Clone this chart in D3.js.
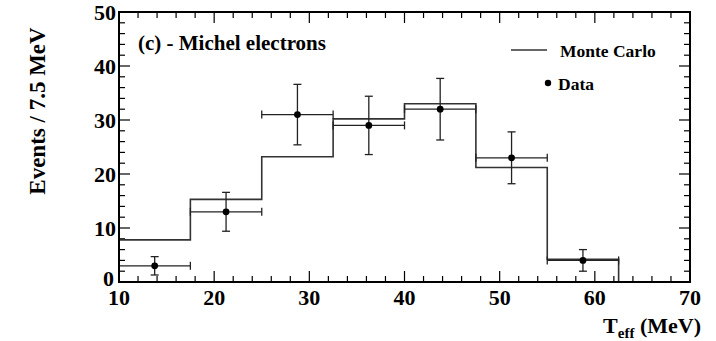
<!DOCTYPE html>
<html>
<head>
<meta charset="utf-8">
<script src="https://cdn.jsdelivr.net/npm/d3@7"></script>
<style>
  body { margin: 0; background: #fff; }
</style>
</head>
<body>
<svg id="chart"></svg>
<script>
// bin edges (MeV), Monte Carlo histogram, data points with errors
const binEdges = [10, 17.5, 25, 32.5, 40, 47.5, 55, 62.5];
const mcCounts = [7.8, 15.3, 23.2, 30.2, 33.0, 21.2, 4.2];
const dataCounts = [3, 13, 31, 29, 32, 23, 4];
const dataErrors = [1.7, 3.6, 5.6, 5.4, 5.7, 4.8, 2.0];
const xTicks = [10, 20, 30, 40, 50, 60, 70];
const yTicks = [0, 10, 20, 30, 40, 50];

const width = 716, height = 341;
const margin = { top: 12, right: 26, bottom: 59, left: 119 };
const fontStack = "'Liberation Serif', Tinos, 'DejaVu Serif', 'DejaVu Sans Condensed', sans-serif";

const svg = d3.select("#chart").attr("width", width).attr("height", height)
  .attr("font-family", fontStack);

const x = d3.scaleLinear().domain([10, 70]).range([margin.left, width - margin.right]);
const y = d3.scaleLinear().domain([0, 50]).range([height - margin.bottom, margin.top]);

const x0 = x.range()[0], x1 = x.range()[1];
const y0 = y.range()[0], y1 = y.range()[1];

// minor + major ticks, inward on all four sides
const g = svg.append("g").attr("stroke", "#000").attr("stroke-width", 1.2);
d3.range(10, 70.01, 2).forEach(v => {
  const len = v % 10 === 0 ? 11 : 6;
  g.append("line").attr("x1", x(v)).attr("x2", x(v)).attr("y1", y0).attr("y2", y0 - len);
  g.append("line").attr("x1", x(v)).attr("x2", x(v)).attr("y1", y1).attr("y2", y1 + len);
});
d3.range(0, 50.01, 2).forEach(v => {
  const len = v % 10 === 0 ? 11 : 6;
  g.append("line").attr("x1", x0).attr("x2", x0 + len).attr("y1", y(v)).attr("y2", y(v));
  g.append("line").attr("x1", x1).attr("x2", x1 - len).attr("y1", y(v)).attr("y2", y(v));
});

// Monte Carlo step histogram
const steps = [];
mcCounts.forEach((c, i) => {
  steps.push([binEdges[i], c]);
  steps.push([binEdges[i + 1], c]);
});
steps.unshift([binEdges[0], 0]);
steps.push([binEdges[binEdges.length - 1], 0]);
svg.append("path")
  .attr("d", d3.line().x(d => x(d[0])).y(d => y(d[1]))(steps))
  .attr("fill", "none").attr("stroke", "#333").attr("stroke-width", 1.6);

// data with error bars
const eb = svg.append("g").attr("stroke", "#222").attr("stroke-width", 1.3);
dataCounts.forEach((c, i) => {
  const lo = binEdges[i], hi = binEdges[i + 1], mid = (lo + hi) / 2;
  const e = dataErrors[i];
  eb.append("line").attr("x1", x(lo)).attr("x2", x(hi)).attr("y1", y(c)).attr("y2", y(c));
  eb.append("line").attr("x1", x(lo)).attr("x2", x(lo)).attr("y1", y(c) - 4).attr("y2", y(c) + 4);
  eb.append("line").attr("x1", x(hi)).attr("x2", x(hi)).attr("y1", y(c) - 4).attr("y2", y(c) + 4);
  eb.append("line").attr("x1", x(mid)).attr("x2", x(mid)).attr("y1", y(c + e)).attr("y2", y(c - e));
  eb.append("line").attr("x1", x(mid) - 4).attr("x2", x(mid) + 4).attr("y1", y(c + e)).attr("y2", y(c + e));
  eb.append("line").attr("x1", x(mid) - 4).attr("x2", x(mid) + 4).attr("y1", y(c - e)).attr("y2", y(c - e));
  svg.append("circle").attr("cx", x(mid)).attr("cy", y(c)).attr("r", 3.4).attr("fill", "#000");
});

// frame
svg.append("rect").attr("x", x0).attr("y", y1).attr("width", x1 - x0).attr("height", y0 - y1)
  .attr("fill", "none").attr("stroke", "#000").attr("stroke-width", 2);

// tick labels
svg.append("g").selectAll("text").data(xTicks).join("text")
  .attr("x", d => x(d)).attr("y", y0 + 23)
  .attr("text-anchor", "middle").attr("font-size", 22).attr("font-weight", "bold")
  .text(d => d);
svg.append("g").selectAll("text").data(yTicks).join("text")
  .attr("x", d => x0 - 3 - (d === 0 ? 2 : 0)).attr("y", d => y(d) + 8 - (d === 0 ? 4 : 0))
  .attr("text-anchor", "end").attr("font-size", 22).attr("font-weight", "bold")
  .text(d => d);

// axis titles
svg.append("text")
  .attr("transform", `translate(45, 111) rotate(-90)`)
  .attr("text-anchor", "middle").attr("font-size", 23).attr("font-weight", "bold")
  .text("Events / 7.5 MeV");

const xt = svg.append("text").attr("x", x1 + 11).attr("y", 333)
  .attr("text-anchor", "end").attr("font-size", 22).attr("font-weight", "bold");
xt.append("tspan").text("T");
xt.append("tspan").attr("font-size", 15).attr("dy", 5).text("eff");
xt.append("tspan").attr("dy", -5).text(" (MeV)");

// panel label
svg.append("text").attr("x", 138).attr("y", 50).attr("font-size", 21).attr("font-weight", "bold")
  .text("(c) - Michel electrons");

// legend
svg.append("line").attr("x1", 511).attr("x2", 547).attr("y1", 50).attr("y2", 50)
  .attr("stroke", "#333").attr("stroke-width", 1.6);
svg.append("text").attr("x", 560).attr("y", 57).attr("font-size", 17.5).attr("font-weight", "bold")
  .text("Monte Carlo");
svg.append("circle").attr("cx", 548).attr("cy", 83).attr("r", 3.2).attr("fill", "#000");
svg.append("text").attr("x", 558).attr("y", 90).attr("font-size", 17.5).attr("font-weight", "bold")
  .text("Data");
</script>
</body>
</html>
